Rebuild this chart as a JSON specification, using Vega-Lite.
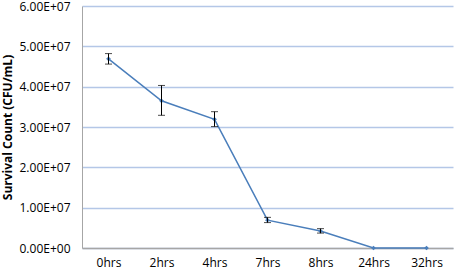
{
  "$schema": "https://vega.github.io/schema/vega-lite/v6.json",
  "width": 371,
  "height": 242,
  "autosize": {"type": "none"},
  "padding": {"left": 82, "top": 6, "right": 1, "bottom": 24},
  "background": "white",
  "config": {
    "view": {"stroke": null},
    "font": "Open Sans",
    "axis": {"labelFont": "Open Sans", "titleFont": "Open Sans"}
  },
  "data": {
    "values": [
      {"time": "0hrs", "count": 46900000, "lo": 45600000, "hi": 48200000},
      {"time": "2hrs", "count": 36500000, "lo": 32900000, "hi": 40300000},
      {"time": "4hrs", "count": 31900000, "lo": 30100000, "hi": 33800000},
      {"time": "7hrs", "count": 6900000, "lo": 6300000, "hi": 7600000},
      {"time": "8hrs", "count": 4200000, "lo": 3700000, "hi": 4800000},
      {"time": "24hrs", "count": 0, "lo": null, "hi": null},
      {"time": "32hrs", "count": 0, "lo": null, "hi": null}
    ]
  },
  "encoding": {
    "x": {
      "field": "time",
      "type": "ordinal",
      "sort": null,
      "scale": {"type": "point", "padding": 0.5},
      "axis": {
        "title": null,
        "labelAngle": 0,
        "ticks": false,
        "grid": false,
        "domainColor": "#a6a6a6",
        "domainWidth": 1.5,
        "labelFontSize": 12,
        "labelColor": "#000000",
        "labelPadding": 9
      }
    }
  },
  "layer": [
    {
      "mark": {"type": "line", "color": "#4a7ebb", "strokeWidth": 1.5},
      "encoding": {
        "y": {
          "field": "count",
          "type": "quantitative",
          "scale": {"domain": [0, 60000000], "nice": false},
          "axis": {
            "title": "Survival Count (CFU/mL)",
            "titleFontSize": 12,
            "titleFontWeight": "bold",
            "titleColor": "#000000",
            "titlePadding": 5,
            "values": [0, 10000000, 20000000, 30000000, 40000000, 50000000, 60000000],
            "labelExpr": "replace(upper(format(datum.value, '.2e')), 'E+', 'E+0')",
            "labelFontSize": 12,
            "labelColor": "#000000",
            "labelPadding": 12,
            "ticks": false,
            "domainColor": "#a6a6a6",
            "gridColor": "#b4c7e7",
            "gridWidth": 1.5,
            "encode": {
              "labels": {
                "update": {
                  "dy": {"signal": "datum.value == 60000000 ? 2 : 0"}
                }
              }
            }
          }
        }
      }
    },
    {
      "mark": {"type": "point", "shape": "diamond", "filled": true, "color": "#4a7ebb", "size": 22, "opacity": 1},
      "encoding": {"y": {"field": "count", "type": "quantitative"}}
    },
    {
      "mark": {"type": "rule", "color": "#000000", "strokeWidth": 1},
      "encoding": {
        "y": {"field": "lo", "type": "quantitative"},
        "y2": {"field": "hi"}
      }
    },
    {
      "mark": {"type": "tick", "color": "#000000", "thickness": 1, "size": 7},
      "encoding": {"y": {"field": "lo", "type": "quantitative"}}
    },
    {
      "mark": {"type": "tick", "color": "#000000", "thickness": 1, "size": 7},
      "encoding": {"y": {"field": "hi", "type": "quantitative"}}
    }
  ]
}
